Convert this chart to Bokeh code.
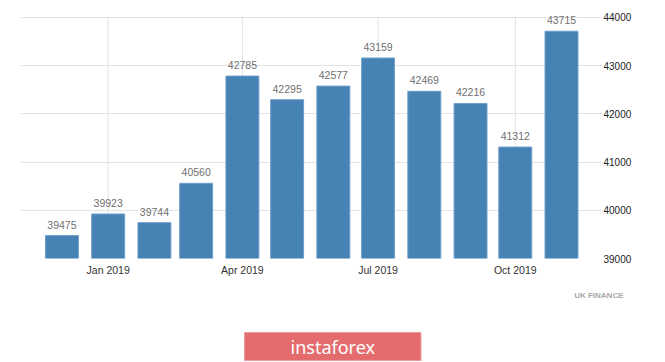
import datetime as dt
from bokeh.plotting import figure
from bokeh.models import FixedTicker, Range1d, Title
from bokeh.core.properties import value
from bokeh.embed import file_html
from bokeh.resources import INLINE

# ---- data ----
months = ["2018-12-01", "2019-01-01", "2019-02-01", "2019-03-01", "2019-04-01", "2019-05-01",
          "2019-06-01", "2019-07-01", "2019-08-01", "2019-09-01", "2019-10-01", "2019-11-01"]
values = [39475, 39923, 39744, 40560, 42785, 42295, 42577, 43159, 42469, 42216, 41312, 43715]
x_tick_dates = ["2019-01-01", "2019-04-01", "2019-07-01", "2019-10-01"]
x_tick_labels = ["Jan 2019", "Apr 2019", "Jul 2019", "Oct 2019"]
y_ticks = [39000, 40000, 41000, 42000, 43000, 44000]
source_text = "UK FINANCE"
brand_text = "instaforex"

def to_dt(s):
    return dt.datetime.strptime(s, "%Y-%m-%d")

def to_ms(d):
    return (d - dt.datetime(1970, 1, 1)).total_seconds() * 1000.0

xs = [to_dt(m) for m in months]
tick_ms = [to_ms(to_dt(d)) for d in x_tick_dates]
DAY = 86400000.0

p = figure(width=665, height=362, x_axis_type="datetime", y_axis_location="right",
           x_range=Range1d(to_ms(xs[0]) - 27.8 * DAY, to_ms(xs[-1]) + 27.5 * DAY),
           y_range=Range1d(y_ticks[0], 44145),
           output_backend="svg", toolbar_location=None,
           min_border_left=20, min_border_right=63, min_border_top=10, min_border_bottom=104)
p.outline_line_color = None
p.background_fill_color = "white"
p.border_fill_color = "white"

# grids
p.xgrid.visible = False
p.ygrid.grid_line_color = "#c8c8c8"
p.ygrid.grid_line_dash = "1 1"
p.ygrid.grid_line_width = 1
p.segment(x0=tick_ms, x1=tick_ms, y0=[y_ticks[0]] * len(tick_ms), y1=[y_ticks[-1]] * len(tick_ms),
          line_color="#c8c8c8", line_dash="1 1", line_width=1)

# bars
p.vbar(x=xs, top=values, bottom=y_ticks[0], width=22.1 * DAY,
       fill_color="#4682b4", line_color="#6f9fcb", line_width=1)

# value labels
p.text(x=xs, y=values, text=[str(v) for v in values], text_align="center",
       text_baseline="bottom", y_offset=-7, text_font_size="10.5px",
       text_color="#707070", text_font=value("Liberation Sans"))

# axes
xa = p.xaxis[0]
xa.ticker = FixedTicker(ticks=tick_ms)
xa.major_label_overrides = {t: lab for t, lab in zip(tick_ms, x_tick_labels)}
xa.axis_line_color = None
xa.major_tick_line_color = None
xa.minor_tick_line_color = None
xa.major_tick_out = 0
xa.major_tick_in = 0
xa.major_label_standoff = 5
xa.major_label_text_font = "Liberation Sans"
xa.major_label_text_font_size = "10.5px"
xa.major_label_text_color = "#333333"

ya = p.yaxis[0]
ya.ticker = FixedTicker(ticks=y_ticks)
ya.axis_line_color = None
ya.major_tick_line_color = None
ya.minor_tick_line_color = None
ya.major_tick_out = 0
ya.major_tick_in = 0
ya.major_label_standoff = 1
ya.major_label_text_font = "Liberation Sans"
ya.major_label_text_font_size = "10px"
ya.major_label_text_color = "#222222"

# source note and brand box as titles below the axis
p.add_layout(Title(text=source_text, align="right", offset=-21, standoff=20,
                   text_font_size="8px", text_font_style="bold", text_color="#a8a8a8",
                   text_font="Liberation Sans"), "below")
p.add_layout(Title(text=" ", align="left", standoff=8, text_font_size="10px"), "below")
p.add_layout(Title(text=brand_text, align="left", offset=224, standoff=0,
                   text_font_size="18px", text_font_style="normal", text_color="white",
                   text_font="Noto Sans", background_fill_color="#e46c6e",
                   border_line_color="#ec9a9b", border_line_width=1,
                   padding=dict(left=46, right=46, top=2, bottom=2)), "below")

open("out.html", "w").write(file_html(p, INLINE))
